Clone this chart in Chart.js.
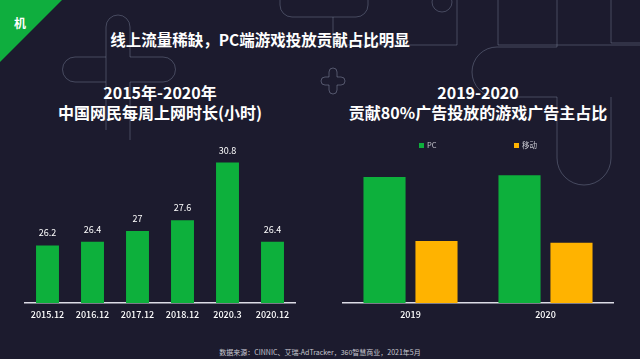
<!DOCTYPE html>
<html><head><meta charset="utf-8">
<script src="https://cdn.jsdelivr.net/npm/chart.js@4/dist/chart.umd.min.js"></script>
<style>
html,body{margin:0;padding:0;}
body{width:640px;height:359px;background:#1c1b2e;position:relative;overflow:hidden;font-family:"Noto Sans CJK SC","Noto Sans",sans-serif;}
#deco{position:absolute;left:0;top:0;}
.t{position:absolute;color:#fff;font-weight:700;white-space:nowrap;text-align:center;transform:translateX(-50%);}
canvas{position:absolute;top:0;}
</style></head><body>
<svg id="deco" width="640" height="359">
 <g fill="none" stroke="rgba(150,160,185,0.35)" stroke-width="1">
  <path d="M106,130 V27 a12,12 0 0 1 24,0 V57 H163 a12.5,12.5 0 0 1 0,25 H130 V140 M106,82 H75 a12.5,12.5 0 0 1 0,-25 H106"/>
  <path d="M280,0 v5 a12,12 0 0 0 12,12 H356 a12,12 0 0 0 12,-12 V0"/>
  <path d="M333,17 V45 H457 V0"/>
  <path d="M498,0 V45 H640"/>
  <path d="M329,77 V72 a4,4 0 0 1 8,0 V77 H341 a4,4 0 0 1 0,8 H337 V90 a4,4 0 0 1 -8,0 V85 H325 a4,4 0 0 1 0,-8 Z" stroke="rgba(150,160,185,0.45)"/>
  <path d="M557,0 V47 H497 a25,25 0 0 0 0,50 H557 V158 a27,27 0 0 0 54,0 V97 M611,0 V43 H640"/>
  <circle cx="442" cy="2" r="10"/>
 </g>
 <polygon points="0,0 62,0 0,62" fill="#0fae3e"/>
</svg>
<div class="t" style="left:14px;top:14px;transform:none;font-size:12px;">机</div>
<div class="t" style="left:260px;top:28px;font-size:15.5px;">线上流量稀缺，PC端游戏投放贡献占比明显</div>
<div class="t" style="left:160px;top:82px;font-size:16px;line-height:20px;">2015年-2020年<br>中国网民每周上网时长(小时)</div>
<div class="t" style="left:478px;top:82px;font-size:16px;line-height:20px;">2019-2020<br>贡献80%广告投放的游戏广告主占比</div>
<div class="t" style="left:320px;top:347px;font-size:7px;font-weight:400;color:#c8c8d0;">数据来源：CINNIC、艾瑞-AdTracker，360智慧商业，2021年5月</div>
<canvas id="c1" width="320" height="359" style="left:0;"></canvas>
<canvas id="c2" width="320" height="359" style="left:320px;"></canvas>
<script>
const netCategories = ['2015.12','2016.12','2017.12','2018.12','2020.3','2020.12'];
const netHours = [26.2, 26.4, 27, 27.6, 30.8, 26.4];
const adYears = ['2019','2020'];
const pcShare = [67, 68];
const mobileShare = [33, 32];
const seriesNames = ['PC','移动'];

const GREEN = '#0db03c', ORANGE = '#ffb300', AXIS = '#dcdce6';
const FONT = '"Noto Sans CJK SC","Noto Sans",sans-serif';
Chart.defaults.font.family = FONT;
Chart.defaults.animation = false;

const valueLabels = {
  id:'valueLabels',
  afterDatasetsDraw(chart){
    const ctx = chart.ctx;
    ctx.save();
    ctx.fillStyle = '#ffffff';
    ctx.font = '9px ' + FONT;
    ctx.textAlign = 'center';
    ctx.textBaseline = 'bottom';
    const meta = chart.getDatasetMeta(0);
    meta.data.forEach((bar,i)=>{
      ctx.fillText(String(chart.data.datasets[0].data[i]), bar.x, bar.y - 8);
    });
    ctx.restore();
  }
};

const legendPlugin = {
  id:'customLegend',
  afterDraw(chart){
    const ctx = chart.ctx;
    ctx.save();
    ctx.font = '7.5px ' + FONT;
    ctx.textBaseline = 'middle';
    const xs = [99, 194];
    chart.data.datasets.forEach((ds,i)=>{
      ctx.fillStyle = ds.backgroundColor;
      ctx.fillRect(xs[i], 143, 5, 5);
      ctx.fillStyle = '#c8c8d0';
      ctx.fillText(ds.label, xs[i] + 8, 145.5);
    });
    ctx.restore();
  }
};

new Chart(document.getElementById('c1'), {
  type:'bar',
  data:{labels:netCategories, datasets:[{data:netHours, backgroundColor:GREEN, borderWidth:0, barPercentage:0.51, categoryPercentage:1}]},
  options:{
    responsive:false,
    layout:{padding:{left:25,right:25,top:123,bottom:36}},
    plugins:{legend:{display:false},tooltip:{enabled:false}},
    scales:{
      y:{display:false,min:23,max:33},
      x:{
        afterFit(s){s.height=20;},
        grid:{display:false,drawTicks:false},
        border:{display:true,color:AXIS,width:1.5},
        ticks:{color:'#ffffff',font:{size:9,weight:500},padding:6,maxRotation:0,autoSkip:false}
      }
    }
  },
  plugins:[valueLabels]
});

new Chart(document.getElementById('c2'), {
  type:'bar',
  data:{labels:adYears, datasets:[
    {label:seriesNames[0], data:pcShare, backgroundColor:GREEN, borderWidth:0},
    {label:seriesNames[1], data:mobileShare, backgroundColor:ORANGE, borderWidth:0}
  ]},
  options:{
    responsive:false,
    datasets:{bar:{categoryPercentage:0.77, barPercentage:0.81}},
    layout:{padding:{left:23,right:27,top:115,bottom:36}},
    plugins:{legend:{display:false},tooltip:{enabled:false}},
    scales:{
      y:{display:false,min:0,max:100},
      x:{
        afterFit(s){s.height=20;},
        grid:{display:false,drawTicks:false},
        border:{display:true,color:AXIS,width:1.5},
        ticks:{color:'#ffffff',font:{size:9,weight:500},padding:6,maxRotation:0}
      }
    }
  },
  plugins:[legendPlugin]
});
</script>
</body></html>
